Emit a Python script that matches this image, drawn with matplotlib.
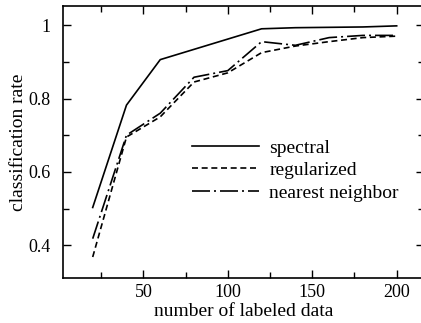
import numpy as np
import matplotlib.pyplot as plt
from matplotlib.ticker import MultipleLocator

plt.rcParams['font.family'] = ['Liberation Serif', 'DejaVu Serif']

# data
n_labeled = [20, 40, 60, 80, 100, 120, 140, 160, 180, 200]
spectral = [0.503, 0.782, 0.906, 0.934, 0.962, 0.990, 0.993, 0.994, 0.995, 0.998]
regularized = [0.368, 0.695, 0.750, 0.845, 0.870, 0.925, 0.943, 0.955, 0.966, 0.970]
nearest = [0.418, 0.700, 0.760, 0.858, 0.876, 0.955, 0.945, 0.966, 0.972, 0.972]

fig = plt.figure(figsize=(4.21, 3.23), dpi=100)
ax = fig.add_axes([0.1504, 0.1384, 0.856, 0.844])

lw = 1.2
ax.plot(n_labeled, spectral, color='k', lw=lw, ls='-', label='spectral')
ax.plot(n_labeled, regularized, color='k', lw=lw, ls=(0, (3.6, 2.2)), label='regularized')
ax.plot(n_labeled, nearest, color='k', lw=lw, ls=(0, (10.8, 2.4, 1.2, 2.4)), label='nearest neighbor')

ax.set_xlim(2.6, 216)
ax.set_ylim(0.31, 1.053)
ax.xaxis.set_major_locator(MultipleLocator(50))
ax.xaxis.set_minor_locator(MultipleLocator(25))
ax.yaxis.set_minor_locator(MultipleLocator(0.1))
ax.set_yticks([0.4, 0.6, 0.8, 1.0])
ax.set_yticklabels(['0.4', '0.6', '0.8', '1'])

ax.tick_params(which='both', direction='in', top=True, right=True, labelsize=13, width=1.0)
ax.tick_params(which='major', length=6)
ax.tick_params(which='minor', length=4)
ax.tick_params(axis='x', pad=4)
ax.tick_params(axis='y', pad=9)
for s in ax.spines.values():
    s.set_linewidth(1.2)

ax.set_xlabel('number of labeled data', fontsize=14, labelpad=1.5)
ax.set_ylabel('classification rate', fontsize=14, labelpad=1)

ax.legend(loc='upper left', bbox_to_anchor=(0.3575, 0.511), frameon=False, fontsize=14,
          handlelength=3.45, handletextpad=0.52, labelspacing=0.25, borderpad=0, borderaxespad=0)

fig.savefig('out.png', dpi=100)
